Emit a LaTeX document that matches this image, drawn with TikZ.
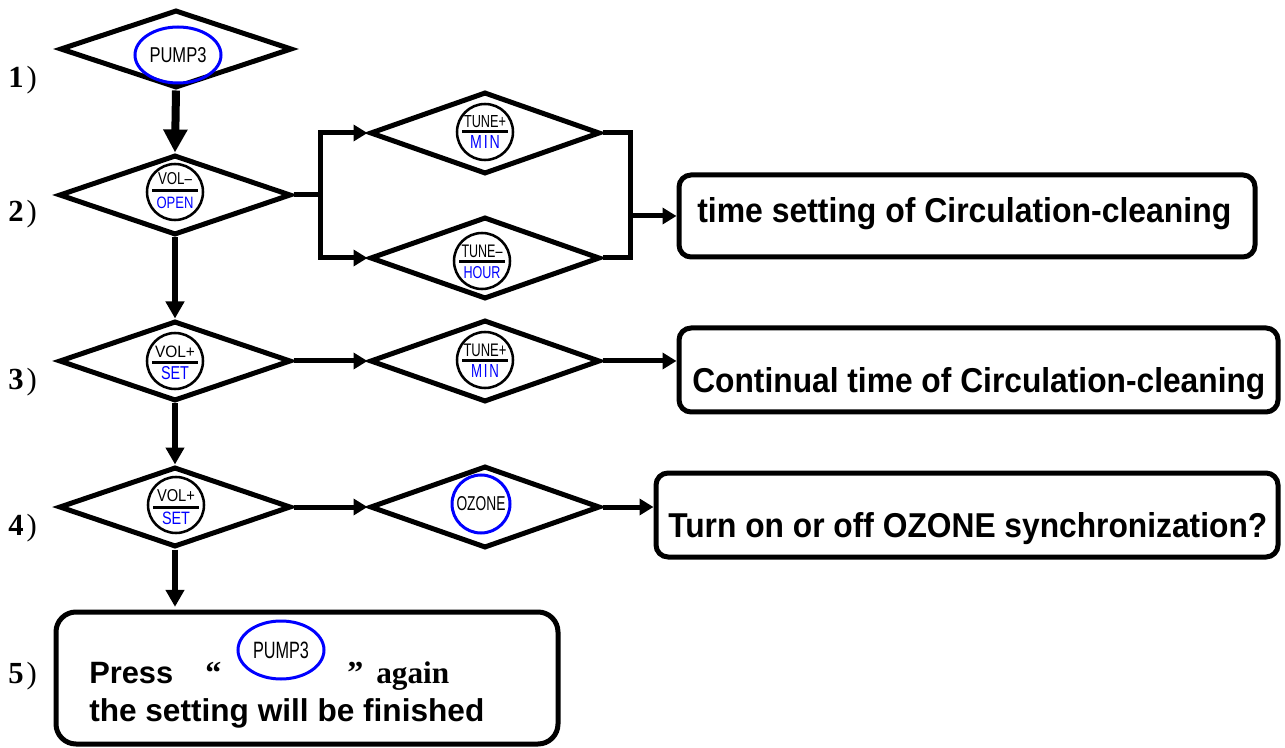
\documentclass[tikz,border=0pt]{standalone}
\usepackage{fontspec}
\usepackage{graphicx}
\setmainfont{Liberation Sans}
\newfontfamily\serf{Liberation Serif}
\usetikzlibrary{shapes.geometric,arrows.meta,calc}
\newdimen\px \px=0.75pt
\newcommand\fw[2]{\resizebox{#1\px}{!}{#2}}
\newcommand\fwh[3]{\resizebox{#1\px}{#2\px}{#3}}
\definecolor{btnblue}{RGB}{0,0,255}
\newcommand\btnicon[7]{%
 \node[btncirc] (#1) at (#2,#3) {};
 \node[inner sep=0pt] (#1u) at ($(#1.center)+(0,#6)$) {#4};
 \draw[btnbar] ($(#1.center)+(-23,{(#6+#7)/2})$) -- ($(#1.center)+(23,{(#6+#7)/2})$);
 \node[inner sep=0pt,text=btnblue] (#1l) at ($(#1.center)+(0,#7)$) {#5};
}
\begin{document}
\begin{tikzpicture}[x=0.75pt,y=-0.75pt,
 dia/.style={diamond, draw, line width=3.75pt, inner sep=0pt, minimum width=174pt, minimum height=60pt},
 dia2/.style={diamond, draw, line width=3.75pt, inner sep=0pt, minimum width=172.5pt, minimum height=61.5pt},
 box/.style={draw, rounded corners=9pt, line width=3.75pt, inner sep=0pt},
 btncirc/.style={circle, draw, line width=1.9pt, minimum size=42pt, inner sep=0pt},
 btnbar/.style={line width=2.25pt},
 ell/.style={ellipse, draw=btnblue, line width=2.25pt, inner sep=0pt, minimum width=64.5pt, minimum height=42pt},
 varrow/.style={line width=4.5pt, -{Triangle[length=12.75pt,width=13.5pt]}},
 bigarrow/.style={line width=6pt, -{Triangle[length=17.25pt,width=17.25pt]}},
 harrow/.style={line width=3.75pt, -{Triangle[length=10.5pt,width=12pt]}},
 hline/.style={line width=3.75pt},
 lbl/.style={anchor=base west, inner sep=0pt, font=\serf\fontsize{23pt}{23pt}\selectfont},
 txt/.style={anchor=base west, inner sep=0pt, font=\bfseries},
 stxt/.style={anchor=base west, inner sep=0pt, font=\serf\bfseries\fontsize{24pt}{24pt}\selectfont},
]
\useasboundingbox (0,0) rectangle (1285,748);

% diamonds
\node[dia, minimum height=58.5pt] (d1) at (176,49) {};
\node[dia] (d2) at (175,195) {};
\node[dia] (d3) at (175,361) {};
\node[dia] (d4) at (175,507) {};
\node[dia2] (d2a) at (485,133) {};
\node[dia2] (d2b) at (485,258) {};
\node[dia2] (d3b) at (485,361) {};
\node[dia2] (d4b) at (485,507) {};

% boxes
\node[box, minimum width=432pt, minimum height=61.5pt] (b2) at (967,216) {};
\node[box, minimum width=449.25pt, minimum height=63pt] (b3) at (978.5,370) {};
\node[box, minimum width=466.5pt, minimum height=63pt] (b4) at (967,515) {};
\node[box, rounded corners=15pt, minimum width=376.5pt, minimum height=99pt] (b5) at (307,678) {};

% icons
\node[ell] (p1) at (178,55) {\fwh{57}{15}{PUMP3}};
\btnicon{i2}{175}{192}{\fwh{34}{12}{VOL–}}{\fwh{37}{11.5}{OPEN}}{-13}{11}
\btnicon{i2a}{485}{132}{\fwh{42}{12}{TUNE+}}{\fwh{30}{13}{M\kern.14em I\kern.14em N}}{-10.5}{10}
\btnicon{i2b}{482}{261}{\fwh{41}{12.5}{TUNE–}}{\fwh{37}{12}{HOUR}}{-10}{11.5}
\btnicon{i3}{175}{361}{\fwh{40}{11.5}{VOL+}}{\fwh{28}{13}{SET}}{-9.5}{12.5}
\btnicon{i4}{176}{505}{\fwh{38}{12}{VOL+}}{\fwh{28}{12.5}{SET}}{-9}{13.5}
\btnicon{i3b}{485}{360}{\fwh{43}{12.5}{TUNE+}}{\fwh{28}{13}{M\kern.14em I\kern.14em N}}{-9.5}{11}
\node[btncirc, draw=btnblue, line width=2.25pt, minimum size=43.5pt] (oz) at (481,504) {\fwh{49}{14}{OZONE}};
\node[ell, minimum height=43.5pt] (p5) at (281,650) {\fwh{56}{16.5}{PUMP3}};

% connectors
\draw[bigarrow] (d1.south) -- (d2.north);
\draw[varrow] (d2.south) -- (d3.north);
\draw[varrow] (d3.south) -- (d4.north);
\draw[varrow, shorten >=2pt] (d4.south) -- (d4.south |- b5.north);
\coordinate (j1) at (320,195);
\coordinate (j2) at (630,216);
\draw[hline] (d2.east) -- (j1);
\draw[hline, {Triangle[length=10.5pt,width=12pt]}-{Triangle[length=10.5pt,width=12pt]}] (d2a.west) -| (j1) |- (d2b.west);
\draw[hline] (d2a.east) -| (j2) |- (d2b.east);
\draw[harrow] (j2) -- (b2.west);
\draw[harrow] (d3.east) -- (d3b.west);
\draw[harrow] (d3b.east) -- (d3b.east -| b3.west);
\draw[harrow] (d4.east) -- (d4b.west);
\draw[harrow] (d4b.east) -- (d4b.east -| b4.west);

% texts
\node[txt] (t2) at (697,223) {\fwh{534}{25}{time setting of Circulation-cleaning}};
\node[txt] (t3) at (692,393) {\fwh{573}{25}{Continual time of Circulation-cleaning}};
\node[txt] (t4) at (668,537) {\fwh{599}{25}{Turn on or off OZONE synchronization?}};
\node[txt] (t5a) at (89,683) {\fw{84}{Press}};
\node[txt] (t5b) at (89,721) {\fw{395}{the setting will be finished}};
\node[stxt] (q1) at (205,683) {“};
\node[stxt] (q2) at (347,683) {”};
\node[stxt] (again) at (376,683) {\fw{73}{again}};

% step labels
\node[lbl] (l1) at (8,88) {\textbf{1}\kern3\px)};
\node[lbl] (l2) at (8,222) {\textbf{2}\kern3\px)};
\node[lbl] (l3) at (8,390) {\textbf{3}\kern3\px)};
\node[lbl] (l4) at (8,535) {\textbf{4}\kern3\px)};
\node[lbl] (l5) at (8,683) {\textbf{5}\kern3\px)};
\end{tikzpicture}
\end{document}
